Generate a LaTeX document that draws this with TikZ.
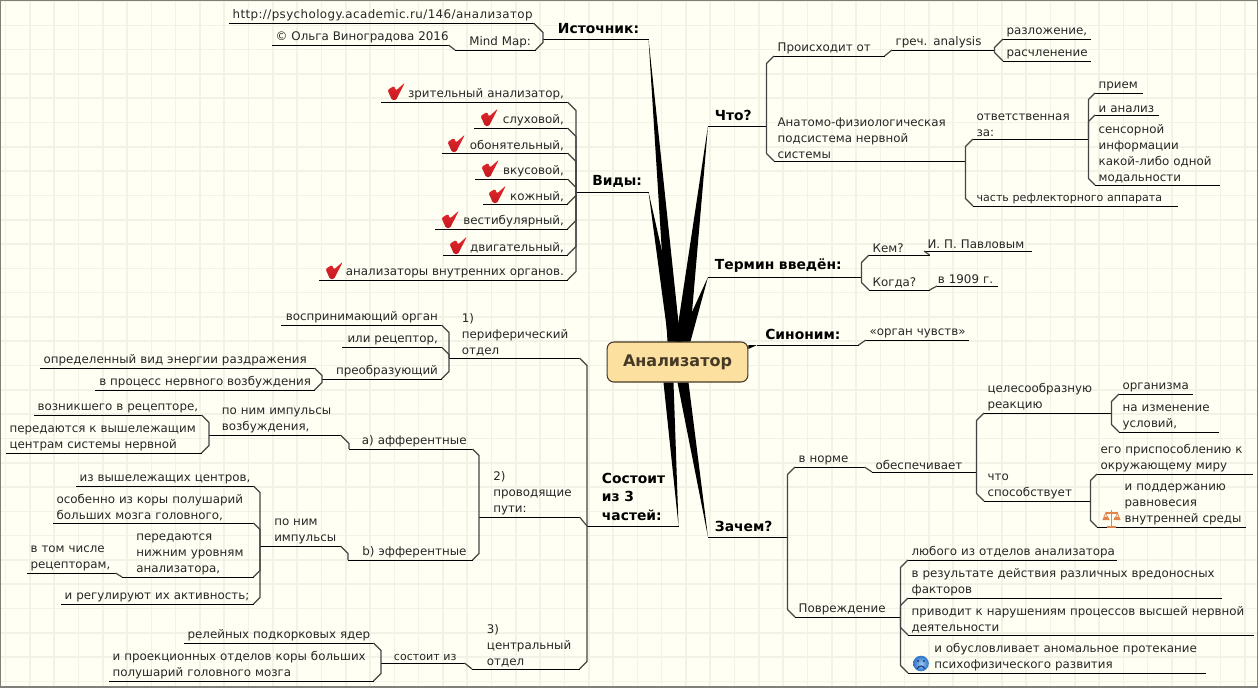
\documentclass[tikz,border=0pt]{standalone}
\usepackage{fontspec}
\setmainfont{DejaVu Sans}
\usepackage{tikz}
\usetikzlibrary{calc}

\definecolor{paper}{HTML}{FFFFF3}
\definecolor{gridline}{HTML}{F2F3E6}
\definecolor{frameline}{HTML}{80807A}
\definecolor{rootfill}{HTML}{FCE0A0}
\definecolor{roottext}{HTML}{463A26}
\definecolor{trunkgray}{HTML}{444444}
\definecolor{checkred}{HTML}{E42A2E}
\definecolor{checkdark}{HTML}{C41820}
\definecolor{scaleorange}{HTML}{E0844A}
\definecolor{faceblue}{HTML}{2E74C8}
\definecolor{facelight}{HTML}{9CC8F0}
\definecolor{facedark}{HTML}{1A3E80}

\tikzset{
    topic/.style={anchor=south west,inner xsep=2.5pt,inner ysep=1.5pt,font=\fontsize{8.9}{12}\selectfont,text=black!85},
    rtopic/.style={topic,text width={(#1)*0.75pt-5pt},align=left},
    ltopic/.style={topic,text width={(#1)*0.75pt-5pt},align=right},
    tight/.style={font=\fontsize{8.3}{12}\selectfont},
    major/.style={anchor=south west,inner xsep=0pt,inner ysep=3.5pt,align=left,font=\fontsize{10.4}{14.2}\selectfont\bfseries,text width={(#1)*0.75pt}},
    bar/.style={black,line width=0.75pt},
    twig/.style={trunkgray,line width=0.9pt,line join=round,to path={
        let \p1=(\tikztostart),\p2=(\tikztotarget) in
        -- (\x1,{\y2+(\y1>\y2?1:-1)*abs(\x2-\x1)}) -- (\tikztotarget)}},
    direct/.style={trunkgray,line width=0.9pt},
    wedge/.style={fill=black},
}

% underline of a topic
\newcommand{\barline}[1]{\draw[bar] (#1.south west) -- (#1.south east);}

% check mark
\newcommand{\checkmk}[1]{\shade[top color=checkred,bottom color=checkdark,rounded corners=1pt,shift={#1}] (-0.5,7) -- (6,3) -- (8,7.5) -- (17,-0.5) -- (8,17) -- (4,17) -- cycle;}

\begin{document}
\begin{tikzpicture}[x=0.75pt,y=-0.75pt]
    \useasboundingbox (0,0) rectangle (1258,687);
    \fill[paper] (0,0) rectangle (1258,687);
    % grid of the sheet
    \foreach \gx in {0,...,51} {\draw[gridline,line width=1.2pt] ({\gx*24.3+5.5},0) -- ({\gx*24.3+5.5},687);}
    \foreach \gy in {0,...,28} {\draw[gridline,line width=1.2pt] (0,{\gy*24.3+1}) -- (1258,{\gy*24.3+1});}
    \draw[frameline,line width=2.2pt] (0,0) rectangle (1258,687);

    % root
    \node[draw=roottext,line width=0.8pt,rounded corners=5pt,fill=rootfill,minimum width=105.5pt,minimum height=30pt,inner sep=0pt,font=\fontsize{12}{14}\selectfont\bfseries,text=roottext] (root) at (677.5,362) {Анализатор};

    % main topics
    \node[major=105] (src) at (543,39) {\hspace{11pt}Источник:};
    \node[major=72] (kinds) at (576,192) {\hspace{12pt}Виды:};
    \node[major=58] (what) at (708,126) {\hspace{5pt}Что?};
    \node[major=153] (term) at (708,277) {\hspace{5pt}Термин введён:};
    \node[major=101] (syn) at (757,345) {\hspace{6pt}Синоним:};
    \node[major=91] (parts) at (587,526) {\hspace{11pt}Состоит\\\hspace{11pt}из 3\\\hspace{11pt}частей:};
    \node[major=79] (why) at (708,537) {\hspace{5pt}Зачем?};

    \foreach \nd in {src,kinds,what,term,syn,parts,why} {\barline{\nd}}

    \fill[wedge] (src.south east) -- ($(root.north)+(-10,0)$) -- ($(root.north)+(3,0)$) -- cycle;
    \fill[wedge] (kinds.south east) -- ($(root.north)+(-9,0)$) -- ($(root.north)+(5,0)$) -- cycle;
    \fill[wedge] (what.south west) -- ($(root.north)+(-2,0)$) -- ($(root.north)+(12,0)$) -- cycle;
    \fill[wedge] (term.south west) -- ($(root.north)+(1,0)$) -- ($(root.north)+(13,0)$) -- cycle;
    \fill[wedge] (parts.south east) -- ($(root.south)+(-14,0)$) -- ($(root.south)+(-4,0)$) -- cycle;
    \fill[wedge] (why.south west) -- ($(root.south)+(0,0)$) -- ($(root.south)+(11,0)$) -- cycle;
    \fill[wedge] (syn.south west) -- ($(root.east)+(0,-17)$) -- ($(root.east)+(0,-13)$) -- cycle;

    % source
    \node[ltopic=304] (url) at (229,23) {\addfontfeature{LetterSpace=3.4}http://psychology.academic.ru/146/анализатор};
    \node[rtopic=80] (mm) at (455,50) {\hspace{8pt}Mind~Map:};
    \node[rtopic=176] (olga) at (272,45) {©~Ольга~Виноградова~2016};
    \foreach \nd in {url,mm,olga} {\barline{\nd}}
    \draw[twig] (src.south west) to (url.south east);
    \draw[twig] (src.south west) to (mm.south east);
    \draw[direct] (mm.south west) -- (olga.south east);

    % kinds
    \node[ltopic=186] (k1) at (381,102) {зрительный анализатор,};
    \node[ltopic=93] (k2) at (474,128) {слуховой,};
    \node[ltopic=125] (k3) at (442,153) {обонятельный,};
    \node[ltopic=92] (k4) at (475,179) {вкусовой,};
    \node[ltopic=84] (k5) at (483,204) {кожный,};
    \node[ltopic=132] (k6) at (435,229) {вестибулярный,};
    \node[ltopic=124] (k7) at (443,255) {двигательный,};
    \node[ltopic=248] (k8) at (319,280) {анализаторы внутренних органов.};
    \foreach \nd in {k1,k2,k3,k4,k5,k6,k7,k8} {\barline{\nd} \draw[twig] (kinds.south west) to (\nd.south east);}
    \checkmk{(388,83)} \checkmk{(481,109)} \checkmk{(448,135)} \checkmk{(482,160)} \checkmk{(489,186)} \checkmk{(442,211)} \checkmk{(450,237)} \checkmk{(326,262)}

    % what
    \node[rtopic=110] (from) at (774,56) {Происходит~от};
    \node[rtopic=102] (greek) at (892,50) {греч. analysis};
    \node[rtopic=87] (decomp) at (1003,39) {разложение,};
    \node[rtopic=87] (dissect) at (1003,61) {расчленение};
    \node[rtopic=191] (anat) at (774,161) {Анатомо-физиологическая\\подсистема нервной\\системы};
    \node[rtopic=115] (resp) at (973,139) {ответственная\\за:};
    \node[rtopic=204,tight] (reflex) at (973,206) {часть~рефлекторного~аппарата};
    \node[rtopic=47] (take) at (1095,93) {прием};
    \node[rtopic=63] (anl) at (1095,115) {и~анализ};
    \node[rtopic=124] (sens) at (1095,185) {сенсорной\\информации\\какой-либо одной\\модальности};
    \foreach \nd in {from,greek,decomp,dissect,anat,resp,reflex,take,anl,sens} {\barline{\nd}}
    \draw[twig] (what.south east) to (from.south west);
    \draw[twig] (what.south east) to (anat.south west);
    \draw[direct] (from.south east) -- (greek.south west);
    \draw[twig] (greek.south east) to (decomp.south west);
    \draw[twig] (greek.south east) to (dissect.south west);
    \draw[twig] (anat.south east) to (resp.south west);
    \draw[twig] (anat.south east) to (reflex.south west);
    \draw[twig] (resp.south east) to (take.south west);
    \draw[twig] (resp.south east) to (anl.south west);
    \draw[twig] (resp.south east) to (sens.south west);

    % term
    \node[rtopic=60] (who) at (869,255) {Кем?};
    \node[rtopic=107] (pavlov) at (924,251) {И.~П.~Павловым};
    \node[rtopic=60] (when) at (869,290) {Когда?};
    \node[rtopic=60] (year) at (937,286) {\hspace{-2pt}в~1909~г.};
    \foreach \nd in {who,pavlov,when,year} {\barline{\nd}}
    \draw[twig] (term.south east) to (who.south west);
    \draw[twig] (term.south east) to (when.south west);
    \draw[direct] (who.south east) -- (pavlov.south west);
    \draw[direct] (when.south east) -- (year.south west);

    % synonym
    \node[rtopic=102] (organ) at (866,340) {«орган~чувств»};
    \barline{organ}
    \draw[direct] (syn.south east) -- (organ.south west);

    % why
    \node[rtopic=69] (norm) at (795,467) {в~норме};
    \node[rtopic=104] (prov) at (872,472) {обеспечивает};
    \node[rtopic=127] (aim) at (984,413) {целесообразную\\реакцию};
    \node[rtopic=106] (helps) at (984,501) {что\\способствует};
    \node[rtopic=73] (body) at (1119,394) {организма};
    \node[rtopic=99] (chg) at (1119,432) {на изменение\\условий,};
    \node[rtopic=155] (fit) at (1097,474) {его~приспособлению~к\\окружающему миру};
    \node[rtopic=148] (bal) at (1097,527) {\hspace{18pt}и поддержанию\\\hspace{18pt}равновесия\\\hspace{18pt}внутренней~среды};
    \node[rtopic=105] (harm) at (795,617) {Повреждение};
    \node[rtopic=208] (any) at (908,560) {любого~из~отделов~анализатора};
    \node[rtopic=313] (res) at (908,598) {в результате действия различных вредоносных\\факторов};
    \node[rtopic=345] (viol) at (908,635) {приводит к нарушениям процессов высшей нервной\\деятельности};
    \node[rtopic=297] (cond) at (908,673) {\hspace{17pt}и обусловливает аномальное протекание\\\hspace{17pt}психофизического развития};
    \foreach \nd in {norm,prov,aim,helps,body,chg,fit,bal,harm,any,res,viol,cond} {\barline{\nd}}
    \draw[twig] (why.south east) to (norm.south west);
    \draw[twig] (why.south east) to (harm.south west);
    \draw[direct] (norm.south east) -- (prov.south west);
    \draw[twig] (prov.south east) to (aim.south west);
    \draw[twig] (prov.south east) to (helps.south west);
    \draw[twig] (aim.south east) to (body.south west);
    \draw[twig] (aim.south east) to (chg.south west);
    \draw[twig] (helps.south east) to (fit.south west);
    \draw[twig] (helps.south east) to (bal.south west);
    \draw[twig] (harm.south east) to (any.south west);
    \draw[twig] (harm.south east) to (res.south west);
    \draw[twig] (harm.south east) to (viol.south west);
    \draw[twig] (harm.south east) to (cond.south west);
    % scales and sad face
    \draw[scaleorange,line width=1.1pt] (1111.5,510) -- (1111.5,527) (1107,527) -- (1116,527) (1105.5,513) -- (1117.5,513);
    \draw[scaleorange,line width=0.5pt] (1103,520) -- (1105.5,513) -- (1109,520) (1114,520) -- (1117.5,513) -- (1120,520);
    \fill[scaleorange] (1102.5,520) arc[start angle=180,end angle=360,radius=3.5] -- cycle;
    \fill[scaleorange] (1113.5,520) arc[start angle=180,end angle=360,radius=3.5] -- cycle;
    \shade[inner color=facelight,outer color=faceblue] (921,663.5) circle (7.8);
    \fill[facedark] (918,661) circle (1.2) (924,661) circle (1.2);
    \draw[facedark,line width=0.8pt] (917,669) .. controls (919,665) and (923,665) .. (925,669);

    % parts: peripheral
    \node[rtopic=130] (per) at (449,358) {\hspace{7pt}1)\\\hspace{7pt}периферический\\\hspace{7pt}отдел};
    \node[ltopic=160] (perc) at (281,325) {воспринимающий~орган};
    \node[ltopic=99] (recp) at (342,347) {или~рецептор,};
    \node[ltopic=119] (conv) at (322,379) {преобразующий};
    \node[rtopic=274] (energy) at (40,368) {определенный~вид~энергии~раздражения};
    \node[ltopic=219] (proc) at (95,390) {в~процесс~нервного~возбуждения};
    \foreach \nd in {per,perc,recp,conv,energy,proc} {\barline{\nd}}
    \draw[twig] (parts.south west) to (per.south east);
    \draw[twig] (per.south west) to (perc.south east);
    \draw[twig] (per.south west) to (recp.south east);
    \draw[twig] (per.south west) to (conv.south east);
    \draw[twig] (conv.south west) to (energy.south east);
    \draw[twig] (conv.south west) to (proc.south east);

    % parts: pathways
    \node[rtopic=100] (path) at (479,517) {\hspace{8pt}2)\\\hspace{8pt}проводящие\\\hspace{8pt}пути:};
    \node[rtopic=123] (aff) at (349,449) {\hspace{7pt}а)~афферентные};
    \node[rtopic=124] (eff) at (348,560) {\hspace{8pt}b)~эфферентные};
    \node[rtopic=131] (imp) at (209,435) {\hspace{7pt}по~ним~импульсы\\\hspace{7pt}возбуждения,};
    \node[rtopic=80] (impb) at (260,546) {\hspace{8pt}по~ним\\\hspace{8pt}импульсы};
    \node[rtopic=167] (arose) at (34,415) {возникшего~в~рецепторе,};
    \node[rtopic=195] (send) at (6,453) {передаются~к~вышележащим\\центрам~системы~нервной};
    \node[rtopic=177] (high) at (76,486) {из~вышележащих~центров,};
    \node[rtopic=200] (cort) at (53,523) {особенно~из~коры~полушарий\\больших~мозга~головного,};
    \node[rtopic=131] (lower) at (122,577) {\hspace{8pt}передаются\\\hspace{8pt}нижним~уровням\\\hspace{8pt}анализатора,};
    \node[rtopic=88] (incl) at (27,573) {в~том~числе\\рецепторам,};
    \node[rtopic=192] (reg) at (61,604) {и~регулируют~их~активность;};
    \foreach \nd in {path,aff,eff,imp,impb,arose,send,high,cort,lower,incl,reg} {\barline{\nd}}
    \draw[direct] (parts.south west) -- (path.south east);
    \draw[twig] (path.south west) to (aff.south east);
    \draw[twig] (path.south west) to (eff.south east);
    \draw[twig] (aff.south west) to (imp.south east);
    \draw[twig] (eff.south west) to (impb.south east);
    \draw[twig] (imp.south west) to (arose.south east);
    \draw[twig] (imp.south west) to (send.south east);
    \draw[twig] (impb.south west) to (high.south east);
    \draw[twig] (impb.south west) to (cort.south east);
    \draw[twig] (impb.south west) to (lower.south east);
    \draw[twig] (impb.south west) to (reg.south east);
    \draw[direct] (lower.south west) -- (incl.south east);

    % parts: central
    \node[rtopic=107] (cen) at (472,669) {\hspace{8.5pt}3)\\\hspace{8.5pt}центральный\\\hspace{8.5pt}отдел};
    \node[rtopic=83,tight] (cons) at (381,663) {\mbox{\hspace{7pt}состоит~из}};
    \node[rtopic=189] (relay) at (184,643) {релейных~подкорковых~ядер};
    \node[rtopic=264] (proj) at (109,681) {и~проекционных~отделов~коры~больших\\полушарий~головного~мозга};
    \foreach \nd in {cen,cons,relay,proj} {\barline{\nd}}
    \draw[twig] (parts.south west) to (cen.south east);
    \draw[direct] (cen.south west) -- (cons.south east);
    \draw[twig] (cons.south west) to (relay.south east);
    \draw[twig] (cons.south west) to (proj.south east);
\end{tikzpicture}
\end{document}
